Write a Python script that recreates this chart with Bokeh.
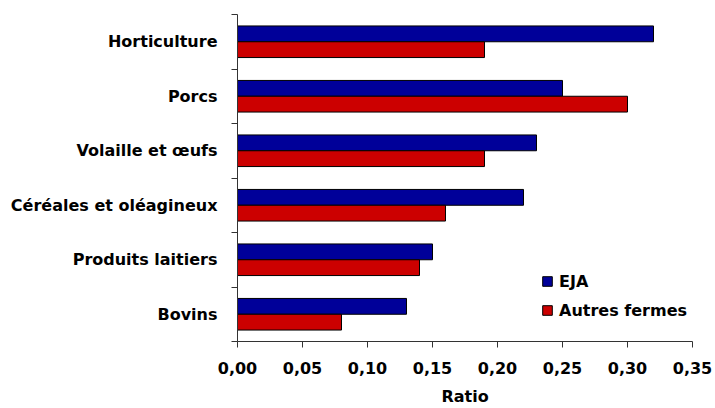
import numpy as np
from bokeh.plotting import figure
from bokeh.models import Range1d, FixedTicker, Legend, LegendItem, ColumnDataSource
from bokeh.embed import file_html
from bokeh.resources import INLINE

categories = ["Horticulture", "Porcs", "Volaille et œufs", "Céréales et oléagineux",
              "Produits laitiers", "Bovins"]
eja = [0.32, 0.25, 0.23, 0.22, 0.15, 0.13]
autres = [0.19, 0.30, 0.19, 0.16, 0.14, 0.08]
x_ticks = [0.0, 0.05, 0.10, 0.15, 0.20, 0.25, 0.30, 0.35]
x_tick_labels = ["0,00", "0,05", "0,10", "0,15", "0,20", "0,25", "0,30", "0,35"]
series_names = ["EJA", "Autres fermes"]
colors = ["#000099", "#CC0000"]

FONT = "DejaVu Sans"
n = len(categories)
centers = [n - i - 0.5 for i in range(n)]
bar_h = 0.29

p = figure(width=715, height=408, output_backend="svg", toolbar_location=None,
           x_range=Range1d(0, 0.35), y_range=Range1d(0, n),
           min_border_left=237, min_border_right=23, min_border_top=14, min_border_bottom=66)
p.outline_line_color = None
p.xgrid.visible = False
p.ygrid.visible = False

src = ColumnDataSource(dict(
    y_e=[c + bar_h / 2 for c in centers],
    y_a=[c - bar_h / 2 for c in centers],
    eja=eja, autres=autres))

r1 = p.hbar(y="y_e", right="eja", left=0, height=bar_h, source=src,
            fill_color=colors[0], line_color="black", line_width=1)
r2 = p.hbar(y="y_a", right="autres", left=0, height=bar_h, source=src,
            fill_color=colors[1], line_color="black", line_width=1)

# x axis
xa = p.xaxis[0]
xa.ticker = FixedTicker(ticks=x_ticks, minor_ticks=[])
xa.major_label_overrides = {t: l for t, l in zip(x_ticks, x_tick_labels)}
xa.axis_label = "Ratio"
xa.axis_label_text_font = FONT
xa.axis_label_text_font_style = "bold"
xa.axis_label_text_font_size = "16px"
xa.axis_label_text_color = "black"
xa.axis_label_standoff = 10
xa.major_label_text_font = FONT
xa.major_label_text_font_style = "bold"
xa.major_label_text_font_size = "16px"
xa.major_label_text_color = "black"
xa.major_label_standoff = 14
xa.major_tick_out = 6
xa.major_tick_in = 0
xa.axis_line_color = "#333333"
xa.major_tick_line_color = "#333333"

# y axis
ya = p.yaxis[0]
ya.ticker = FixedTicker(ticks=centers, minor_ticks=list(range(0, n + 1)))
ya.major_label_overrides = {c: cat for c, cat in zip(centers, categories)}
ya.major_label_text_font = FONT
ya.major_label_text_font_style = "bold"
ya.major_label_text_font_size = "16px"
ya.major_label_text_color = "black"
ya.major_label_standoff = 14
ya.major_tick_out = 0
ya.major_tick_in = 0
ya.minor_tick_out = 6
ya.minor_tick_in = 0
ya.axis_line_color = "#333333"
ya.minor_tick_line_color = "#333333"

legend = Legend(items=[LegendItem(label=series_names[0], renderers=[r1]),
                       LegendItem(label=series_names[1], renderers=[r2])],
                location=(304, 21), orientation="vertical",
                glyph_width=12, glyph_height=12, label_standoff=6,
                label_text_font=FONT, label_text_font_style="bold",
                label_text_font_size="16px", label_text_color="black",
                label_height=20, spacing=9,
                padding=0, margin=0, background_fill_alpha=0, border_line_alpha=0)
p.add_layout(legend, "center")

open("out.html", "w").write(file_html(p, INLINE))
